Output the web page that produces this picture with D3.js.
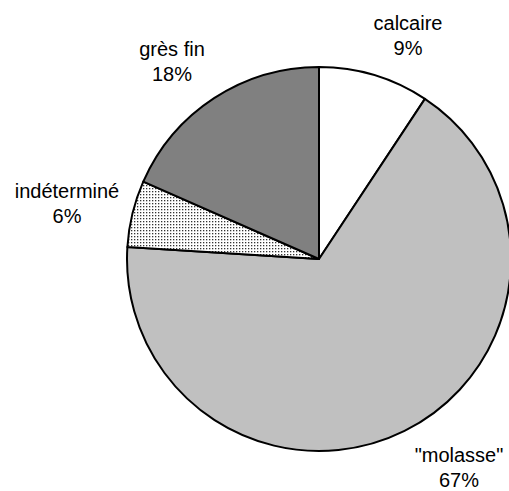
<!DOCTYPE html>
<html>

<head>
    <meta charset="utf-8">
    <title>Pie chart</title>
    <script src="https://d3js.org/d3.v7.min.js"></script>
    <style>
        body { margin: 0; background: #fff; }
    </style>
</head>

<body>

    <svg width="509" height="491" id="mainSvg"></svg>
    <script>
        // data (clockwise from 12 o'clock)
        const categories = ["calcaire", "\"molasse\"", "indéterminé", "grès fin"];
        const shares = [9.3, 66.7, 5.6, 18.4];
        const pctLabels = ["9%", "67%", "6%", "18%"];

        const svg = d3.select("#mainSvg");
        const cx = 319, cy = 259, radius = 192;

        const defs = svg.append("defs");
        const pat = defs.append("pattern")
            .attr("id", "dots")
            .attr("patternUnits", "userSpaceOnUse")
            .attr("width", 3).attr("height", 3);
        pat.append("rect").attr("width", 3).attr("height", 3).attr("fill", "#fff");
        pat.append("rect").attr("x", 1).attr("y", 1).attr("width", 1.3).attr("height", 1.3).attr("fill", "#333");

        const fills = ["#ffffff", "#c0c0c0", "url(#dots)", "#808080"];

        const pie = d3.pie().sort(null).value(d => d.value);
        const arc = d3.arc().innerRadius(0).outerRadius(radius);

        const data = categories.map((c, i) => ({ name: c, value: shares[i], pct: pctLabels[i], fill: fills[i] }));
        const arcs = pie(data);

        const g = svg.append("g").attr("transform", `translate(${cx}, ${cy})`);

        g.selectAll(".slice").data(arcs).join("path")
            .attr("class", "slice")
            .attr("d", arc)
            .attr("fill", d => d.data.fill)
            .attr("stroke", "#000")
            .attr("stroke-width", 2)
            .attr("stroke-linejoin", "round");

        // label anchor positions (relative to pie centre)
        const labelPos = [
            { x: 89, y: -229 },
            { x: 140, y: 203 },
            { x: -252, y: -61 },
            { x: -147, y: -203 }
        ];

        const labels = svg.append("g")
            .attr("font-family", "Liberation Sans, Arial, sans-serif")
            .attr("font-size", 20)
            .attr("fill", "#000")
            .attr("text-anchor", "middle");

        labels.selectAll("text").data(arcs).join("text")
            .attr("x", (d, i) => cx + labelPos[i].x)
            .attr("y", (d, i) => cy + labelPos[i].y)
            .each(function (d) {
                const t = d3.select(this);
                t.append("tspan").attr("x", t.attr("x")).text(d.data.name);
                t.append("tspan").attr("x", t.attr("x")).attr("dy", 25).text(d.data.pct);
            });
    </script>
</body>

</html>
